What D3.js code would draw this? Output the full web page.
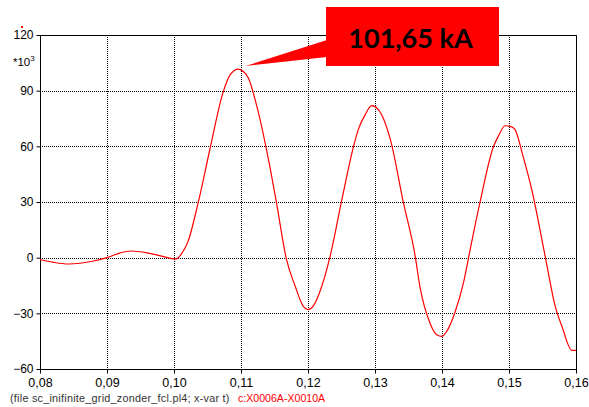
<!DOCTYPE html>
<html>
<head>
<meta charset="utf-8">
<script src="https://cdn.jsdelivr.net/npm/d3@7/dist/d3.min.js"></script>
<style>
  html, body { margin: 0; padding: 0; background: #fff; }
  svg { display: block; font-family: "Liberation Sans", Arial, sans-serif; }
</style>
</head>
<body>
<svg id="chart" width="589" height="407"></svg>
<script>
// Short-circuit current trace, time in seconds, current in kA (axis shown as *10^3 A)
const timeS = [0.0800, 0.0820, 0.0842, 0.0860, 0.0880, 0.0900, 0.0920, 0.0936, 0.0960, 0.0980, 0.1003,
  0.1012, 0.1021, 0.1036, 0.1054, 0.1073, 0.1084, 0.1096, 0.1104, 0.1111, 0.1123, 0.1143, 0.1153, 0.1168, 0.1181, 0.1193, 0.1200, 0.1208, 0.1217,
  0.1233, 0.1250, 0.1268, 0.1275, 0.1286, 0.1295, 0.1305, 0.1323, 0.1342, 0.1360, 0.1367, 0.1382, 0.1392, 0.1400, 0.1407,
  0.1419, 0.1432, 0.1442, 0.1457, 0.1477, 0.1484, 0.1494, 0.1503, 0.1509, 0.1521, 0.1534, 0.1554, 0.1569, 0.1579, 0.1594, 0.1600];
const currentKA = [-1.0, -2.5, -3.4, -3.0, -1.8, 0.0, 2.6, 3.6, 2.6, 1.0, -0.7,
  2.5, 8.8, 29.5, 59.1, 88.8, 98.6, 101.65, 100.2, 96.8, 82.5, 49.2, 29.5, -1.1, -15.5, -26.2, -28.0, -26.0, -19.0,
  0.7, 30.3, 60.0, 69.0, 77.5, 81.9, 79.8, 63.6, 30.3, 0.7, -15.5, -35.2, -41.5, -42.4, -39.7,
  -29.8, -13.6, 4.3, 30.3, 60.0, 65.4, 71.1, 70.6, 69.0, 54.6, 36.6, 0.7, -26.2, -37.0, -50.0, -50.0];
const xTicks = [0.08, 0.09, 0.10, 0.11, 0.12, 0.13, 0.14, 0.15, 0.16];
const yTicks = [-60, -30, 0, 30, 60, 90, 120];
const peakLabel = "101,65 kA";
const peakIndex = 17;
const fileCaption = "(file sc_inifinite_grid_zonder_fcl.pl4; x-var t)";
const seriesCaption = "c:X0006A-X0010A";

const svg = d3.select("#chart");
const plotL = 40, plotR = 576, plotT = 35, plotB = 369;

const x = d3.scaleLinear().domain([0.08, 0.16]).range([plotL, plotR]);
const y = d3.scaleLinear().domain([-60, 120]).range([plotB, plotT]);
const fmtX = v => d3.format(".2f")(v).replace(".", ",");

// dotted grid
const grid = svg.append("g").attr("stroke", "#000").attr("stroke-width", 1)
  .attr("stroke-dasharray", "1,1").attr("shape-rendering", "crispEdges");
grid.selectAll("line.vx").data(xTicks.slice(1, -1)).join("line")
  .attr("x1", d => Math.round(x(d)) + 0.5).attr("x2", d => Math.round(x(d)) + 0.5)
  .attr("y1", plotT).attr("y2", plotB);
grid.selectAll("line.hy").data(yTicks.slice(1, -1)).join("line")
  .attr("x1", plotL).attr("x2", plotR)
  .attr("y1", d => Math.round(y(d)) + 0.5).attr("y2", d => Math.round(y(d)) + 0.5);

// frame
svg.append("rect").attr("x", plotL + 0.5).attr("y", plotT + 0.5)
  .attr("width", plotR - plotL).attr("height", plotB - plotT)
  .attr("fill", "none").attr("stroke", "#000").attr("stroke-width", 1.2)
  .attr("shape-rendering", "crispEdges");

// axes
const xAxis = d3.axisBottom(x).tickValues(xTicks).tickFormat(fmtX).tickSize(4).tickPadding(5);
const yAxis = d3.axisLeft(y).tickValues(yTicks).tickFormat(d3.format("d")).tickSize(4).tickPadding(3);
const gx = svg.append("g").attr("transform", `translate(0,${plotB + 0.5})`).call(xAxis);
const gy = svg.append("g").attr("transform", `translate(${plotL + 0.5},0)`).call(yAxis);
[gx, gy].forEach(g => {
  g.select(".domain").remove();
  g.selectAll("text").attr("font-family", "Liberation Sans, Arial, sans-serif")
    .attr("font-size", 12).attr("fill", "#000");
  g.selectAll("line").attr("stroke", "#000");
});
gx.selectAll("text").attr("font-size", 12.5);

// unit multiplier
const unit = svg.append("text").attr("x", 13).attr("y", 66)
  .attr("font-size", 11.5).attr("fill", "#000");
unit.append("tspan").text("*10");
unit.append("tspan").attr("dy", -5).attr("font-size", 8).text("3");

// small red marker above axis top
svg.append("rect").attr("x", 21).attr("y", 26).attr("width", 2).attr("height", 2).attr("fill", "#f00");

// current trace
const line = d3.line().curve(d3.curveMonotoneX).x((d, i) => x(timeS[i])).y(d => y(d));
svg.append("path").datum(currentKA).attr("d", line)
  .attr("fill", "none").attr("stroke", "#ff0000").attr("stroke-width", 1.2)
  .attr("stroke-linejoin", "round");

// peak callout
const px = x(timeS[peakIndex]) + 7, py = y(currentKA[peakIndex]) - 3;
const box = { x0: 326, y0: 7, x1: 499, y1: 66 };
svg.append("path")
  .attr("d", `M${box.x0 + 1},40 L${px},${py} L${box.x0 + 1},57 Z`)
  .attr("fill", "#ff0000");
svg.append("rect").attr("x", box.x0).attr("y", box.y0)
  .attr("width", box.x1 - box.x0).attr("height", box.y1 - box.y0)
  .attr("fill", "#ff0000");
svg.append("text").attr("x", (box.x0 + box.x1) / 2 - 2).attr("y", 48)
  .attr("text-anchor", "middle").attr("font-family", "Lato, 'Open Sans', sans-serif")
  .attr("font-weight", "bold").attr("font-size", 27).attr("fill", "#000")
  .text(peakLabel);

// captions
svg.append("text").attr("x", 10).attr("y", 402).attr("font-size", 10.8)
  .attr("letter-spacing", 0.25).attr("fill", "#333")
  .text(fileCaption);
svg.append("text").attr("x", 238).attr("y", 402).attr("font-size", 10.6).attr("fill", "#ff0000")
  .text(seriesCaption);
</script>
</body>
</html>
